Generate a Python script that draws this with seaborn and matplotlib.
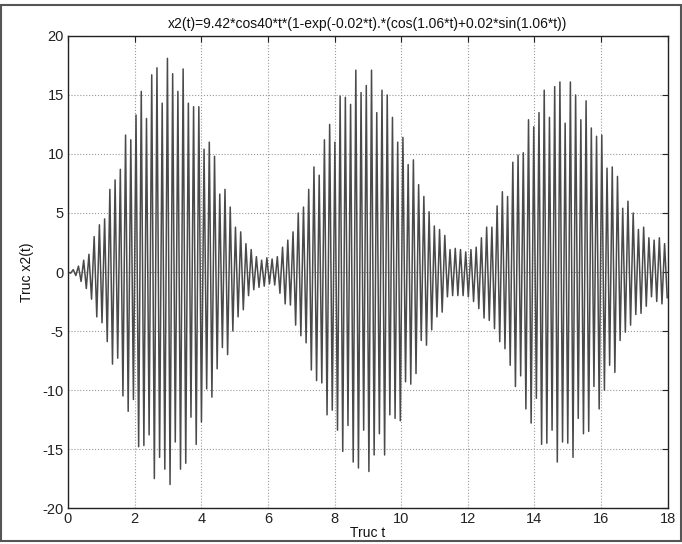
import numpy as np
import pandas as pd
import seaborn as sns
import matplotlib
matplotlib.use("Agg")
import matplotlib.pyplot as plt

# Values: one positive and one negative peak per carrier cycle
upper_peaks = [
    0.0, 0.2, 0.5, 1.0, 1.5, 3.0, 4.0, 4.5, 7.0, 7.8,
    8.7, 11.6, 11.2, 13.3, 15.3, 13.0, 16.7, 17.3, 14.3, 18.1,
    16.8, 15.3, 17.2, 14.3, 14.0, 14.0, 10.4, 11.0, 9.8, 6.6,
    7.0, 5.5, 3.8, 3.4, 2.4, 1.9, 1.3, 1.0, 1.2, 1.1,
    1.3, 2.1, 2.7, 3.4, 5.0, 5.5, 7.0, 8.9, 8.2, 11.2,
    12.5, 11.0, 14.9, 14.8, 14.2, 17.1, 15.2, 15.8, 17.1, 13.5,
    15.4, 15.0, 13.1, 11.0, 11.4, 9.1, 9.5, 7.4, 6.4, 5.1,
    3.9, 3.6, 3.1, 1.9, 2.0, 1.9, 1.7, 1.9, 2.1, 2.9,
    3.8, 3.8, 5.6, 6.8, 6.4, 9.3, 9.9, 10.1, 12.9, 12.3,
    13.5, 15.4, 13.1, 15.7, 16.1, 12.6, 16.1, 15.0, 12.9, 14.5,
    12.2, 11.5, 11.6, 8.8, 8.9, 8.1, 5.4, 6.0, 5.0, 3.6,
    3.8, 2.9, 2.7, 2.9, 2.4,
]
lower_peaks = [
    -0.1, -0.3, -0.8, -1.4, -2.3, -3.8, -4.3, -5.9, -7.8, -7.3,
    -10.5, -11.8, -10.8, -14.8, -14.7, -13.8, -17.5, -15.7, -16.7, -18.0,
    -14.4, -16.7, -16.2, -12.3, -14.6, -12.7, -9.9, -10.6, -8.2, -6.4,
    -7.0, -5.0, -3.8, -3.2, -2.0, -1.5, -1.3, -1.2, -1.0, -1.1,
    -1.8, -2.7, -2.8, -4.5, -5.4, -6.0, -8.3, -9.2, -9.4, -12.1,
    -11.7, -13.4, -15.2, -13.0, -16.1, -16.6, -13.4, -16.9, -15.5, -13.7,
    -15.5, -12.1, -12.4, -12.6, -9.3, -9.5, -8.6, -5.8, -6.2, -4.9,
    -3.8, -3.4, -2.1, -2.0, -2.0, -2.0, -2.1, -2.5, -3.1, -3.9,
    -4.1, -4.8, -5.9, -6.5, -7.9, -9.7, -8.8, -11.6, -12.8, -10.7,
    -14.6, -14.5, -13.4, -16.1, -14.4, -14.5, -15.7, -12.4, -13.7, -13.5,
    -9.7, -11.6, -10.0, -7.9, -8.5, -5.8, -5.1, -4.5, -3.6, -3.5,
    -2.9, -2.1, -2.5, -2.7, -2.2,
]
title_text = "x2(t)=9.42*cos40*t*(1-exp(-0.02*t).*(cos(1.06*t)+0.02*sin(1.06*t))"
x_label = "Truc t"
y_label = "Truc x2(t)"
x_ticks = [0, 2, 4, 6, 8, 10, 12, 14, 16, 18]
y_ticks = [-20, -15, -10, -5, 0, 5, 10, 15, 20]

# carrier period (cos 40t)
period = 2 * np.pi / 40
n = len(upper_peaks)
t_vals = []
y_vals = []
for k in range(n):
    t_vals.append(k * period)
    y_vals.append(upper_peaks[k])
    t_vals.append((k + 0.5) * period)
    y_vals.append(lower_peaks[k])
df = pd.DataFrame({"t": t_vals, "x2": y_vals})

sns.set_theme(style="white")
plt.rcParams["font.family"] = ["Liberation Sans", "DejaVu Sans"]

fig = plt.figure(figsize=(6.82, 5.44), dpi=100)
ax = fig.add_axes([0.0997, 0.066, 0.8793, 0.868])

sns.lineplot(data=df, x="t", y="x2", sort=False, estimator=None,
             color="#4a4a4a", linewidth=1.1, ax=ax)

ax.set_xlim(0, 18)
ax.set_ylim(-20, 20)
ax.set_xticks(x_ticks)
ax.set_yticks(y_ticks)
ax.set_xticklabels([str(v) for v in x_ticks], fontsize=10.5)
ax.set_yticklabels([str(v) for v in y_ticks], fontsize=10.5)
ax.tick_params(direction="in", length=4, width=0.8, top=True, right=True,
               colors="#222222", pad=3)
ax.grid(True, linestyle=":", color="#999999", linewidth=0.8)
for s in ax.spines.values():
    s.set_color("#222222")
    s.set_linewidth(1.0)
ax.set_title(title_text, fontsize=10, pad=6, color="#111111")
ax.set_xlabel(x_label, fontsize=10, labelpad=0, color="#111111")
ax.set_ylabel(y_label, fontsize=10, labelpad=6, color="#111111")

# scanned frame
fig.patches.append(plt.Rectangle((0.002, 0.006), 0.996, 0.985, transform=fig.transFigure,
                                 fill=False, edgecolor="#555555", linewidth=1.5))

fig.savefig("out.png", dpi=100, facecolor="white")
